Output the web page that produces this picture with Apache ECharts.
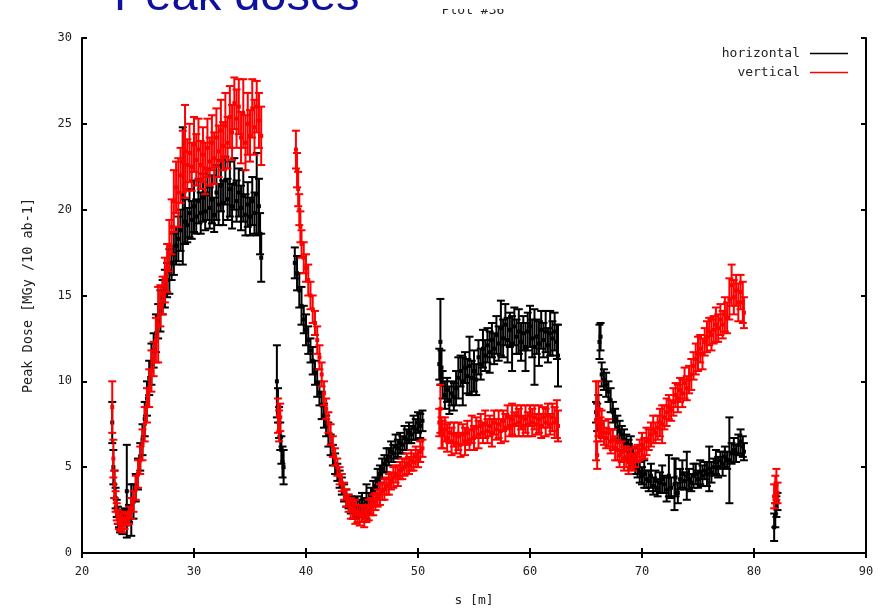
<!DOCTYPE html>
<html>
<head>
<meta charset="utf-8">
<script src="https://cdn.jsdelivr.net/npm/echarts@6/dist/echarts.min.js"></script>
<style>
  html, body { margin: 0; padding: 0; background: #fff; }
  #chart { width: 885px; height: 612px; }
</style>
</head>
<body>
<div id="chart"></div>
<script>
// horizontal (black): position s [m], peak dose, error
const horizS = [
  22.7, 22.8, 22.9, 23.0, 23.1, 23.2, 23.3, 23.4, 23.5, 23.6, 23.8, 24.0, 24.2, 24.4, 24.6, 24.8,
  25.0, 25.2, 25.4, 25.6, 25.8, 26.0, 26.2, 26.4, 26.6, 26.8, 27.0, 27.2, 27.4, 27.6, 27.8,
  28.0, 28.2, 28.4, 28.6, 28.8, 29.0, 29.2, 29.4, 29.6, 29.8, 30.0, 30.2, 30.4, 30.6, 30.8,
  31.0, 31.2, 31.4, 31.6, 31.8, 32.0, 32.2, 32.4, 32.6, 32.8, 33.0, 33.2, 33.4, 33.6, 33.8,
  34.0, 34.2, 34.4, 34.6, 34.8, 35.0, 35.2, 35.4, 35.6, 35.8, 35.9, 36.0,
  37.4, 37.5, 37.6, 37.7, 37.8, 37.9, 38.0,
  39.0, 39.2, 39.4, 39.6, 39.8, 40.0, 40.2, 40.4, 40.6, 40.8, 41.0, 41.2, 41.4, 41.6, 41.8,
  42.0, 42.2, 42.4, 42.6, 42.8, 43.0, 43.2, 43.4, 43.6, 43.8, 44.0, 44.2, 44.4, 44.6, 44.8,
  45.0, 45.2, 45.4, 45.6, 45.8, 46.0, 46.2, 46.4, 46.6, 46.8, 47.0, 47.2, 47.4, 47.6, 47.8,
  48.0, 48.2, 48.4, 48.6, 48.8, 49.0, 49.2, 49.4, 49.6, 49.8, 50.0, 50.2, 50.4,
  51.9, 52.0, 52.1, 52.2, 52.4, 52.6, 52.8, 53.0, 53.2, 53.4, 53.6, 53.8, 54.0, 54.2, 54.4,
  54.6, 54.8, 55.0, 55.2, 55.4, 55.6, 55.8, 56.0, 56.2, 56.4, 56.6, 56.8, 57.0, 57.2, 57.4,
  57.6, 57.8, 58.0, 58.2, 58.4, 58.6, 58.8, 59.0, 59.2, 59.4, 59.6, 59.8, 60.0, 60.2, 60.4,
  60.6, 60.8, 61.0, 61.2, 61.4, 61.6, 61.8, 62.0, 62.2, 62.4, 62.5,
  65.9, 66.0, 66.1, 66.2, 66.3, 66.4, 66.6, 66.8, 67.0, 67.2, 67.4, 67.6, 67.8, 68.0, 68.2,
  68.4, 68.6, 68.8, 69.0, 69.2, 69.4, 69.6, 69.8, 70.0, 70.2, 70.4, 70.6, 70.8, 71.0, 71.2,
  71.4, 71.6, 71.8, 72.0, 72.2, 72.4, 72.6, 72.9, 73.0, 73.2, 73.4, 73.6, 73.8, 74.0, 74.2,
  74.4, 74.6, 74.8, 75.0, 75.2, 75.4, 75.6, 75.8, 76.0, 76.2, 76.4, 76.6, 76.8, 77.0, 77.2,
  77.4, 77.6, 77.8, 78.0, 78.2, 78.4, 78.6, 78.8, 79.0, 79.1,
  81.8, 81.9, 82.0, 82.1
];
const horizV = [
  7.6, 5.0, 4.0, 3.2, 2.6, 2.2, 1.9, 1.7, 2.0, 1.8, 2.1, 3.6, 2.3, 2.5, 3.0, 3.8,
  4.6, 5.6, 6.6, 7.8, 9.0, 10.2, 11.0, 11.8, 12.8, 13.5, 14.1, 14.9, 15.4, 15.9, 16.4,
  16.9, 17.4, 17.9, 18.3, 18.8, 20.8, 19.3, 19.1, 19.8, 19.4, 20.2, 19.6, 20.5, 19.8, 20.7,
  19.9, 20.9, 20.1, 20.6, 19.7, 21.0, 20.3, 21.4, 20.4, 21.7, 20.6, 21.2, 20.2, 21.5, 20.5,
  21.0, 20.1, 20.8, 19.7, 20.3, 19.6, 20.5, 19.8, 20.9, 20.2, 18.6, 17.2,
  10.0, 8.6, 7.6, 6.8, 6.0, 5.3, 5.0,
  16.9, 16.3, 15.3, 14.4, 13.6, 13.0, 12.4, 11.8, 11.2, 10.5, 9.9, 9.3, 8.6, 8.0, 7.4,
  6.9, 6.3, 5.7, 5.2, 4.7, 4.3, 3.9, 3.5, 3.2, 3.0, 2.8, 2.6, 2.5, 2.7, 2.6,
  2.8, 2.7, 3.0, 2.9, 3.3, 3.6, 3.9, 4.3, 4.6, 4.9, 5.2, 5.4, 5.6, 5.9, 5.8,
  6.2, 6.1, 6.4, 6.3, 6.7, 6.6, 7.0, 6.9, 7.3, 7.2, 7.6, 7.4, 7.7,
  11.0, 12.3, 10.8, 9.8, 9.2, 9.5, 8.9, 9.3, 9.1, 9.6, 10.2, 10.6, 10.0, 10.8, 10.3,
  10.9, 10.2, 10.6, 10.1, 11.4, 11.0, 11.9, 11.5, 12.1, 11.7, 12.4, 11.9, 12.7, 12.2, 13.1,
  12.5, 13.3, 12.4, 13.0, 12.2, 13.2, 12.6, 12.9, 12.3, 12.8, 12.0, 12.9, 13.2, 12.5, 12.0,
  12.6, 12.2, 13.0, 12.4, 12.9, 12.1, 12.8, 12.5, 12.9, 12.3, 11.5,
  8.2, 7.9, 8.5, 12.3, 12.6, 10.4, 10.1, 9.8, 9.4, 8.9, 8.2, 7.8, 7.3, 7.1, 6.9,
  6.6, 6.4, 6.0, 6.3, 5.6, 5.2, 4.9, 4.7, 4.5, 4.6, 4.3, 4.2, 4.5, 3.9, 4.2,
  3.8, 4.1, 4.3, 4.0, 3.7, 4.5, 3.8, 4.0, 4.4, 3.5, 4.3, 4.6, 4.2, 4.5, 4.3,
  4.1, 4.5, 4.6, 4.3, 4.7, 4.5, 4.8, 4.6, 4.9, 4.7, 5.0, 5.3, 5.0, 5.4, 5.2,
  5.6, 5.4, 5.4, 5.8, 6.0, 5.8, 6.3, 6.5, 6.2, 5.9,
  1.5, 2.2, 2.7, 3.0
];
const horizE = [
  1.2, 1.0, 0.8, 0.6, 0.5, 0.5, 0.4, 0.5, 0.4, 0.7, 0.5, 2.7, 0.5, 1.5, 1.0, 0.8,
  0.9, 0.8, 0.9, 1.0, 1.0, 1.0, 1.2, 1.0, 1.1, 1.0, 1.2, 1.0, 1.1, 1.0, 1.3,
  1.0, 1.2, 1.1, 1.3, 1.2, 4.0, 1.3, 1.0, 1.4, 1.1, 1.5, 1.0, 1.3, 1.2, 1.4,
  1.1, 1.5, 1.2, 1.4, 1.0, 1.6, 1.2, 1.5, 1.3, 1.4, 1.2, 1.6, 1.3, 1.5, 1.2,
  1.4, 1.3, 1.5, 1.2, 1.3, 1.1, 1.4, 1.2, 2.4, 1.6, 1.2, 1.4,
  2.1, 1.0, 0.9, 0.8, 0.8, 0.9, 1.0,
  0.9, 1.0, 1.0, 1.1, 0.8, 0.9, 0.8, 0.7, 0.8, 0.7, 0.8, 0.7, 0.8, 0.7, 0.6,
  0.7, 0.6, 0.6, 0.6, 0.5, 0.5, 0.5, 0.5, 0.5, 0.4, 0.5, 0.6, 0.5, 0.6, 0.5,
  0.7, 0.5, 1.0, 0.6, 0.5, 0.6, 0.5, 0.6, 0.5, 0.6, 0.5, 0.7, 0.5, 0.6, 0.5,
  0.7, 0.5, 0.6, 0.5, 0.7, 0.6, 0.6, 0.5, 0.7, 0.6, 0.6, 0.7, 0.6,
  0.9, 2.5, 1.0, 0.8, 0.8, 0.7, 0.8, 0.7, 0.8, 1.0, 1.2, 0.9, 1.4, 0.9, 1.0,
  1.7, 1.0, 1.2, 0.9, 1.0, 0.9, 1.1, 0.9, 1.0, 1.2, 1.0, 0.9, 1.1, 1.0, 1.6,
  1.1, 1.2, 1.3, 1.0, 1.6, 1.1, 1.0, 1.3, 1.1, 1.0, 1.4, 1.1, 1.2, 1.1, 2.2,
  1.0, 1.3, 1.1, 1.0, 1.2, 1.0, 1.3, 1.0, 1.1, 1.0, 1.8,
  0.6, 0.8, 0.7, 1.0, 0.8, 0.7, 0.6, 0.7, 0.6, 0.7, 0.6, 0.6, 0.7, 0.6, 0.5,
  0.6, 0.5, 0.6, 0.5, 0.5, 0.6, 0.5, 0.6, 0.5, 0.8, 0.5, 0.6, 0.7, 0.5, 0.6,
  0.5, 0.6, 0.8, 0.5, 0.7, 1.2, 0.6, 1.5, 1.1, 0.6, 0.6, 0.8, 0.5, 1.4, 0.6,
  0.5, 0.7, 0.6, 0.5, 0.7, 0.6, 0.5, 0.7, 1.3, 0.6, 0.5, 0.7, 0.6, 0.5, 0.7,
  0.6, 0.5, 2.5, 0.6, 0.7, 0.5, 0.6, 0.7, 0.6, 0.5,
  0.8, 0.7, 0.6, 0.5
];

// vertical (red)
const vertS = [
  22.7, 22.8, 22.9, 23.0, 23.1, 23.2, 23.3, 23.4, 23.5, 23.6, 23.8, 24.0, 24.2, 24.4, 24.6, 24.8,
  25.0, 25.2, 25.4, 25.6, 25.8, 26.0, 26.2, 26.4, 26.6, 26.8, 27.0, 27.2, 27.4, 27.6, 27.8,
  28.0, 28.2, 28.4, 28.6, 28.8, 29.0, 29.2, 29.4, 29.6, 29.8, 30.0, 30.2, 30.4, 30.6, 30.8,
  31.0, 31.2, 31.4, 31.6, 31.8, 32.0, 32.2, 32.4, 32.6, 32.8, 33.0, 33.2, 33.4, 33.6, 33.8,
  34.0, 34.2, 34.4, 34.6, 34.8, 35.0, 35.2, 35.4, 35.6, 35.8, 36.0,
  37.5, 37.6, 37.7,
  39.1, 39.2, 39.3, 39.4, 39.5, 39.6, 39.8, 40.0, 40.2, 40.4, 40.6, 40.8, 41.0, 41.2, 41.4,
  41.6, 41.8, 42.0, 42.2, 42.4, 42.6, 42.8, 43.0, 43.2, 43.4, 43.6, 43.8, 44.0, 44.2, 44.4,
  44.6, 44.8, 45.0, 45.2, 45.4, 45.6, 45.8, 46.0, 46.2, 46.4, 46.6, 46.8, 47.0, 47.2, 47.4,
  47.6, 47.8, 48.0, 48.2, 48.4, 48.6, 48.8, 49.0, 49.2, 49.4, 49.6, 49.8, 50.0, 50.2, 50.4,
  51.9, 52.0, 52.1, 52.2, 52.4, 52.6, 52.8, 53.0, 53.2, 53.4, 53.6, 53.8, 54.0, 54.2, 54.4,
  54.6, 54.8, 55.0, 55.2, 55.4, 55.6, 55.8, 56.0, 56.2, 56.4, 56.6, 56.8, 57.0, 57.2, 57.4,
  57.6, 57.8, 58.0, 58.2, 58.4, 58.6, 58.8, 59.0, 59.2, 59.4, 59.6, 59.8, 60.0, 60.2, 60.4,
  60.6, 60.8, 61.0, 61.2, 61.4, 61.6, 61.8, 62.0, 62.2, 62.4, 62.5,
  65.9, 66.0, 66.1, 66.2, 66.3, 66.4, 66.6, 66.8, 67.0, 67.2, 67.4, 67.6, 67.8, 68.0, 68.2,
  68.4, 68.6, 68.8, 69.0, 69.2, 69.4, 69.6, 69.8, 70.0, 70.2, 70.4, 70.6, 70.8, 71.0, 71.2,
  71.4, 71.6, 71.8, 72.0, 72.2, 72.4, 72.6, 72.8, 73.0, 73.2, 73.4, 73.6, 73.8, 74.0, 74.2,
  74.4, 74.6, 74.8, 75.0, 75.2, 75.4, 75.6, 75.8, 76.0, 76.2, 76.4, 76.6, 76.8, 77.0, 77.2,
  77.4, 77.6, 77.8, 78.0, 78.2, 78.4, 78.6, 78.8, 79.0, 79.1,
  81.8, 81.9, 82.0, 82.1
];
const vertV = [
  8.5, 5.5, 4.0, 3.0, 2.4, 2.1, 1.8, 1.7, 1.8, 1.6, 1.9, 2.0, 2.2, 2.6, 3.0, 3.8,
  4.6, 5.4, 6.3, 7.5, 8.6, 9.6, 10.6, 11.3, 12.4, 13.3, 14.4, 15.0, 15.9, 16.6, 17.9,
  19.0, 20.5, 21.3, 21.0, 22.0, 22.8, 23.4, 22.6, 23.3, 22.5, 23.8, 22.9, 23.5, 22.6, 23.2,
  22.4, 23.6, 22.8, 23.9, 23.0, 24.2, 23.4, 24.6, 23.7, 24.9, 23.9, 25.4, 24.5, 26.2, 25.3,
  26.0, 24.2, 25.6, 23.9, 25.0, 24.3, 25.9, 24.8, 26.0, 25.2, 24.3,
  8.0, 7.4, 7.9,
  23.5, 22.3, 21.2, 20.0, 19.0, 18.0, 17.2, 16.6, 15.9, 15.0, 14.2, 13.4, 12.4, 11.4, 10.4,
  9.3, 8.4, 7.6, 6.9, 6.2, 5.6, 5.0, 4.5, 4.1, 3.6, 3.2, 2.9, 2.6, 2.5, 2.4,
  2.3, 2.2, 2.3, 2.1, 2.3, 2.5, 2.7, 2.8, 3.0, 3.2, 3.4, 3.6, 3.7, 3.9, 4.0,
  4.2, 4.4, 4.6, 4.5, 4.8, 4.9, 5.0, 5.2, 5.1, 5.4, 5.3, 5.6, 5.5, 5.9, 6.1,
  7.6, 8.4, 7.0, 6.9, 7.2, 6.7, 7.0, 6.5, 6.9, 6.4, 6.8, 6.3, 6.9, 6.5, 7.0,
  6.6, 7.2, 6.7, 7.3, 6.9, 7.4, 7.0, 7.5, 7.1, 7.4, 7.0, 7.6, 7.2, 7.5, 7.1,
  7.7, 7.3, 7.9, 7.4, 7.8, 7.5, 8.0, 7.6, 7.9, 7.4, 7.8, 7.5, 8.0, 7.6, 7.9,
  7.5, 7.8, 7.4, 7.9, 7.6, 8.0, 7.5, 7.9, 7.6, 7.8, 7.4,
  7.7, 5.7, 8.4, 7.6, 7.2, 7.5, 7.0, 6.7, 7.0, 6.5, 6.6, 6.1, 6.0, 5.7, 5.9,
  5.5, 5.6, 5.3, 5.5, 5.3, 5.6, 5.8, 6.0, 6.3, 6.1, 6.5, 6.6, 6.9, 7.2, 7.0,
  7.3, 7.6, 7.5, 7.9, 8.2, 8.5, 8.3, 8.8, 9.2, 9.0, 9.5, 9.3, 9.9, 9.6, 10.1,
  10.4, 10.9, 11.3, 11.6, 11.9, 11.6, 12.3, 12.6, 12.9, 12.7, 13.0, 13.3, 13.1, 13.6, 13.3,
  13.9, 13.7, 14.8, 15.6, 14.9, 15.3, 14.6, 15.2, 14.6, 14.0,
  3.3, 3.7, 4.0, 3.5
];
const vertE = [
  1.5, 1.1, 0.8, 0.6, 0.5, 0.4, 0.4, 0.4, 0.5, 0.4, 0.5, 0.4, 0.5, 0.6, 0.6, 0.7,
  0.8, 0.8, 0.9, 1.0, 1.0, 1.1, 1.2, 1.0, 1.3, 2.2, 1.2, 1.1, 1.3, 1.4, 1.5,
  1.6, 1.8, 1.5, 2.0, 1.6, 1.8, 2.7, 1.5, 1.7, 1.4, 1.6, 1.5, 1.8, 1.4, 1.6,
  1.5, 1.7, 1.4, 1.6, 1.5, 1.7, 1.5, 1.8, 1.4, 1.9, 1.5, 1.8, 1.6, 1.5, 1.7,
  1.6, 1.5, 2.0, 1.6, 1.8, 1.5, 1.7, 1.6, 1.5, 1.6, 1.7,
  1.0, 0.9, 0.8,
  1.1, 1.0, 1.0, 0.9, 0.9, 0.8, 0.9, 0.8, 0.9, 0.8, 0.8, 0.7, 0.8, 0.7, 0.7,
  0.7, 0.6, 0.6, 0.6, 0.6, 0.5, 0.5, 0.5, 0.5, 0.5, 0.5, 0.5, 0.6, 0.5, 0.7,
  0.5, 0.6, 0.5, 0.6, 0.5, 0.6, 0.5, 0.6, 0.5, 0.5, 0.6, 0.5, 0.6, 0.5, 0.6,
  0.5, 0.6, 0.5, 0.6, 0.5, 0.6, 0.5, 0.6, 0.5, 0.6, 0.5, 0.6, 0.5, 0.6, 0.5,
  0.8, 1.4, 0.9, 0.8, 0.7, 0.8, 0.6, 0.8, 0.7, 0.6, 0.8, 0.7, 0.6, 0.8, 0.7,
  0.6, 0.8, 0.7, 0.6, 0.8, 0.7, 0.6, 0.8, 0.7, 0.6, 0.8, 0.7, 0.6, 0.8, 0.7,
  0.6, 0.8, 0.7, 0.6, 0.9, 0.7, 0.6, 0.8, 0.7, 0.6, 0.8, 0.7, 0.6, 0.8, 0.7,
  0.6, 0.8, 0.7, 0.6, 0.8, 0.7, 0.6, 0.8, 0.9, 1.1, 0.9,
  2.3, 0.8, 1.6, 0.8, 0.7, 0.8, 0.7, 0.6, 0.8, 0.7, 0.6, 0.7, 0.6, 0.7, 0.6,
  0.7, 0.6, 0.7, 0.6, 0.5, 0.6, 0.5, 0.6, 0.7, 0.6, 0.8, 0.6, 0.7, 0.8, 0.6,
  0.7, 0.8, 1.1, 0.7, 0.8, 0.7, 0.6, 0.8, 0.7, 0.8, 0.7, 0.8, 0.9, 0.7, 0.8,
  0.9, 0.8, 0.9, 1.0, 0.8, 0.9, 0.8, 0.9, 0.8, 0.9, 0.8, 1.0, 0.8, 0.9, 0.8,
  1.0, 0.9, 1.2, 1.2, 1.0, 0.9, 1.1, 1.0, 1.2, 0.9,
  0.7, 0.8, 0.9, 0.6
];

const xTicks = [20, 90, 10];
const yTicks = [0, 30, 5];
const mono = "DejaVu Sans Mono";

function toRows(s, v, e) {
  return s.map((x, i) => [x, v[i], e[i]]);
}

function errorBar(params, api) {
  const x = api.value(0), y = api.value(1), e = api.value(2);
  const top = api.coord([x, y + e]);
  const bot = api.coord([x, y - e]);
  const mid = api.coord([x, y]);
  const color = api.visual("color");
  const cap = 4;
  const st = { stroke: color, lineWidth: 2 };
  return {
    type: "group",
    children: [
      { type: "line", shape: { x1: top[0], y1: top[1], x2: bot[0], y2: bot[1] }, style: st },
      { type: "line", shape: { x1: top[0] - cap, y1: top[1], x2: top[0] + cap, y2: top[1] }, style: st },
      { type: "line", shape: { x1: bot[0] - cap, y1: bot[1], x2: bot[0] + cap, y2: bot[1] }, style: st },
      { type: "rect", shape: { x: mid[0] - 2, y: mid[1] - 2, width: 4, height: 4 }, style: { fill: color } },
    ],
  };
}

const chart = echarts.init(document.getElementById("chart"));
const axisLabelStyle = { color: "#222", fontFamily: mono, fontSize: 12 };
const option = {
  animation: false,
  backgroundColor: "#fff",
  grid: { left: 82, right: 19, top: 38, bottom: 59 },
  graphic: [
    { type: "rect", left: 400, top: 0, shape: { width: 160, height: 9 }, style: { fill: "#fff" }, z: 50 },
    {
      type: "text", x: 114, y: -3, z: 60,
      style: { text: "Peak doses", fill: "#10109e", font: "47px 'Liberation Sans'", textVerticalAlign: "middle" },
    },
    {
      type: "text", x: 473, y: 17, z: 40,
      style: { text: "Plot #36", fill: "#222", font: "13px '" + mono + "'", textAlign: "center", textVerticalAlign: "bottom" },
    },
  ],
  legend: {
    orient: "vertical",
    right: 32,
    top: 42,
    align: "right",
    itemWidth: 38,
    itemHeight: 1.5,
    itemGap: 6,
    icon: "rect",
    textStyle: { fontFamily: mono, fontSize: 13, color: "#222", padding: [0, 5, 0, 0] },
    data: ["horizontal", "vertical"],
  },
  xAxis: [
    {
      type: "value", min: xTicks[0], max: xTicks[1], interval: xTicks[2],
      name: "s [m]", nameLocation: "middle", nameGap: 41,
      nameTextStyle: { fontFamily: mono, fontSize: 13, color: "#222" },
      axisLine: { lineStyle: { color: "#000", width: 2 } },
      axisTick: { inside: true, length: 5, lineStyle: { color: "#000", width: 2 } },
      axisLabel: Object.assign({ margin: 13 }, axisLabelStyle),
      splitLine: { show: false },
    },
    {
      type: "value", position: "top", min: xTicks[0], max: xTicks[1], interval: xTicks[2],
      axisLine: { lineStyle: { color: "#000", width: 2 } },
      axisTick: { inside: true, length: 5, lineStyle: { color: "#000", width: 2 } },
      axisLabel: { show: false },
      splitLine: { show: false },
    },
  ],
  yAxis: [
    {
      type: "value", min: yTicks[0], max: yTicks[1], interval: yTicks[2],
      name: "Peak Dose [MGy /10 ab-1]", nameLocation: "middle", nameGap: 47, nameRotate: 90,
      nameTextStyle: { fontFamily: mono, fontSize: 13.5, color: "#222" },
      axisLine: { show: true, lineStyle: { color: "#000", width: 2 } },
      axisTick: { show: true, inside: true, length: 5, lineStyle: { color: "#000", width: 2 } },
      axisLabel: Object.assign({ margin: 10 }, axisLabelStyle),
      splitLine: { show: false },
    },
    {
      type: "value", position: "right", min: yTicks[0], max: yTicks[1], interval: yTicks[2],
      axisLine: { show: true, lineStyle: { color: "#000", width: 2 } },
      axisTick: { show: true, inside: true, length: 5, lineStyle: { color: "#000", width: 2 } },
      axisLabel: { show: false },
      splitLine: { show: false },
    },
  ],
  series: [
    {
      name: "horizontal",
      type: "custom",
      renderItem: errorBar,
      itemStyle: { color: "#000" },
      encode: { x: 0, y: 1 },
      data: toRows(horizS, horizV, horizE),
    },
    {
      name: "vertical",
      type: "custom",
      renderItem: errorBar,
      itemStyle: { color: "#ff0000" },
      encode: { x: 0, y: 1 },
      data: toRows(vertS, vertV, vertE),
    },
  ],
};
chart.setOption(option);
</script>
</body>
</html>
